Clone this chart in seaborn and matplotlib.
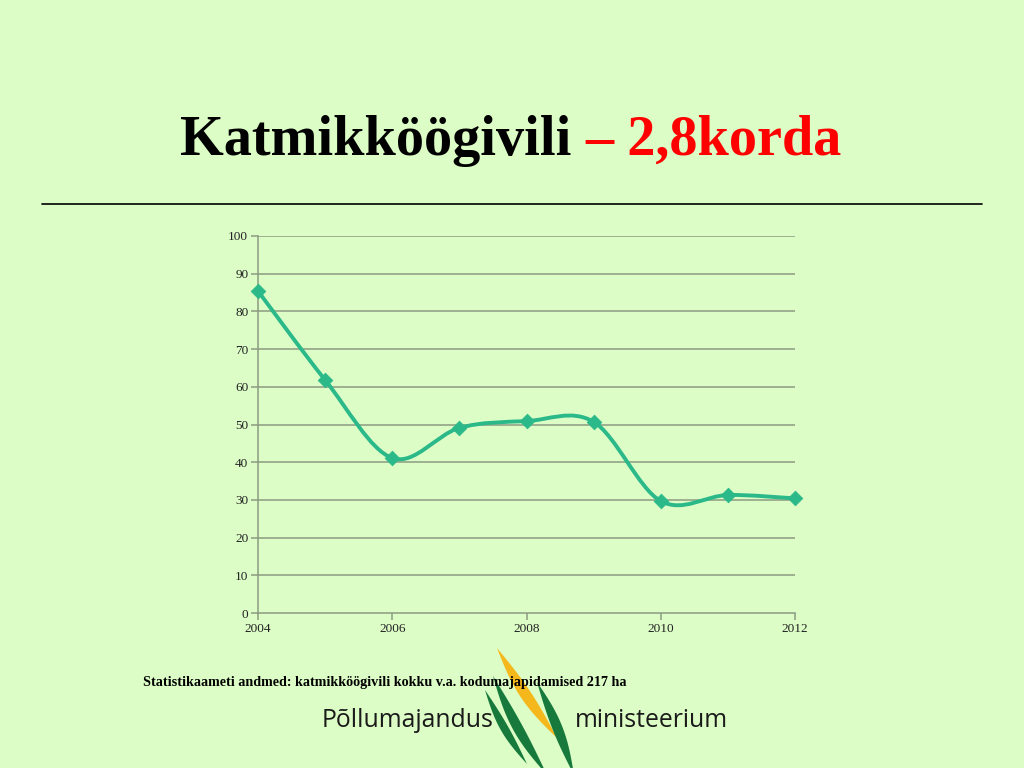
import numpy as np
import pandas as pd
import matplotlib
matplotlib.use("Agg")
import matplotlib.pyplot as plt
from matplotlib.path import Path
from matplotlib.patches import PathPatch, Polygon
import seaborn as sns

years = [2004, 2005, 2006, 2007, 2008, 2009, 2010, 2011, 2012]
values = [85.4, 61.8, 41.1, 49.1, 50.9, 50.7, 29.7, 31.3, 30.4]
x_ticks = [2004, 2006, 2008, 2010, 2012]
y_ticks = [0, 10, 20, 30, 40, 50, 60, 70, 80, 90, 100]
title_black = "Katmikköögivili "
title_red = "– 2,8korda"
footnote = "Statistikaameti andmed: katmikköögivili kokku v.a. kodumajapidamised 217 ha"

BG = "#dcfdc6"
LINE = "#2bb98a"
GRID = "#8c9a82"

sns.set_theme(style="white")
plt.rcParams['font.family'] = ['Liberation Serif', 'DejaVu Serif']

df = pd.DataFrame({"year": years, "value": values})

fig = plt.figure(figsize=(10.24, 7.68), dpi=100, facecolor=BG)
ax = fig.add_axes([258/1024, 1-613/768, (795-258)/1024, (613-236)/768])
ax.set_facecolor(BG)

# smoothed line (Catmull-Rom style bezier through data points)
xs = np.array(years, float); ys = np.array(values, float)
verts = [(xs[0], ys[0])]; codes = [Path.MOVETO]
n = len(xs)
t = 1/6
for i in range(n-1):
    p0 = (xs[max(i-1, 0)], ys[max(i-1, 0)])
    p1 = (xs[i], ys[i]); p2 = (xs[i+1], ys[i+1])
    p3 = (xs[min(i+2, n-1)], ys[min(i+2, n-1)])
    c1 = (p1[0] + (p2[0]-p0[0])*t, p1[1] + (p2[1]-p0[1])*t)
    c2 = (p2[0] - (p3[0]-p1[0])*t, p2[1] - (p3[1]-p1[1])*t)
    verts += [c1, c2, p2]; codes += [Path.CURVE4]*3
ax.add_patch(PathPatch(Path(verts, codes), facecolor='none', edgecolor=LINE, lw=2.8, zorder=3,
                       capstyle='round', clip_on=False))

sns.scatterplot(data=df, x="year", y="value", marker="D", s=55, color=LINE, edgecolor=LINE, ax=ax, zorder=4)
for c in ax.collections:
    c.set_clip_on(False)

ax.set_xlim(2004, 2012)
ax.set_ylim(0, 100)
ax.set_xticks(x_ticks)
ax.set_yticks(y_ticks)
ax.set_xlabel(""); ax.set_ylabel("")
for yv in y_ticks[1:]:
    ax.axhline(yv, color=GRID, lw=1.1, zorder=1)
for s in ["top", "right"]:
    ax.spines[s].set_visible(False)
for s in ["left", "bottom"]:
    ax.spines[s].set_color(GRID); ax.spines[s].set_linewidth(1.1)
ax.tick_params(axis='both', which='major', length=5, width=1.1, color=GRID, direction='out',
               labelsize=9.5, labelcolor="#222222", pad=2, bottom=True, left=True)

# title
TS = 40.5
fig.text(180/1024, 1-155/768, title_black, fontsize=TS, fontweight='bold', color='black', ha='left', va='baseline')
tb = fig.text(0, 0, title_black, fontsize=TS, fontweight='bold')
fig.canvas.draw()
w = tb.get_window_extent(renderer=fig.canvas.get_renderer()).width
tb.remove()
fig.text((180 + w)/1024, 1-155/768, title_red, fontsize=TS, fontweight='bold', color='#ff0000', ha='left', va='baseline')

# rule under title
fig.add_artist(plt.Line2D([42/1024, 982/1024], [1-204/768, 1-204/768], color='black', lw=1.2, transform=fig.transFigure))

# footnote
fig.text(143/1024, 1-686/768, footnote, fontsize=10.2, fontweight='bold', color='black', ha='left', va='baseline')

# logo leaves (decoration)
def leaf(p_top, p_bot, width, bulge, color):
    p_top = np.array(p_top, float); p_bot = np.array(p_bot, float)
    tt = np.linspace(0, 1, 50)
    d = p_bot - p_top
    nrm = np.array([-d[1], d[0]]) / np.linalg.norm(d)
    center = p_top[None, :] + tt[:, None]*d[None, :] + (bulge*np.sin(np.pi*tt))[:, None]*nrm[None, :]
    half = width*np.sin(np.pi*tt) / 2
    left = center + half[:, None]*nrm[None, :]
    right = center - half[:, None]*nrm[None, :]
    pts = np.vstack([left, right[::-1]])
    pts[:, 0] /= 1024; pts[:, 1] = 1 - pts[:, 1]/768
    fig.add_artist(Polygon(pts, closed=True, facecolor=color, edgecolor='none', transform=fig.transFigure, zorder=0))

leaf((485, 690), (527, 764), 8, 2, "#177a3c")
leaf((493, 676), (547, 775), 10, 3, "#177a3c")
leaf((497, 648), (557, 738), 11, 2, "#f4b81c")
leaf((537, 682), (574, 775), 10, -2, "#177a3c")

fig.text(322/1024, 1-727/768, "Põllumajandus", fontsize=17.8, family=['Open Sans', 'DejaVu Sans'], color='#1a1a1a', ha='left', va='baseline')
fig.text(575/1024, 1-727/768, "ministeerium", fontsize=17.8, family=['Open Sans', 'DejaVu Sans'], color='#1a1a1a', ha='left', va='baseline')

fig.savefig("out.png", dpi=100, facecolor=BG)
